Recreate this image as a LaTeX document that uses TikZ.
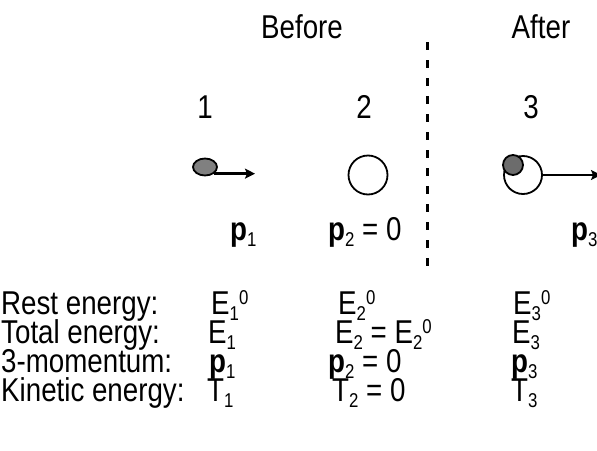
\documentclass[tikz,border=0pt]{standalone}
\usepackage{fontspec}
\setmainfont{Liberation Sans}[FakeStretch=0.84]
\usetikzlibrary{arrows.meta, shapes.geometric}
\newcommand{\subidx}[1]{\raisebox{-6pt}{\fontsize{20}{20}\selectfont #1}}
\newcommand{\supidx}[1]{\raisebox{10pt}{\fontsize{20}{20}\selectfont #1}}

\begin{document}
\begin{tikzpicture}[x=1pt, y=-1pt,
    every node/.style={inner sep=0pt, anchor=base west, font=\fontsize{33}{33}\selectfont},
    ball/.style={draw, line width=1.8pt, inner sep=0pt, anchor=center},
    arr/.style={line width=2.4pt, -{Stealth[length=10pt,width=10pt,inset=2pt]}}]

  \useasboundingbox (0,0) rectangle (597,450);

  % Headings
  \node[anchor=base] (Bef) at (302,38) {Before};
  \node[anchor=base] (Aft) at (541,38) {After};
  \node[anchor=base] (N1) at (205,118) {1};
  \node[anchor=base] (N2) at (364,118) {2};
  \node[anchor=base] (N3) at (531,118) {3};

  % Before / after divider
  \draw[line width=3pt, dash pattern=on 8pt off 10pt] (427,42) -- (427,272);

  % Particles
  \node[ball, ellipse, fill=gray, minimum width=24pt, minimum height=17pt] (P1) at (205,167) {};
  \node[ball, circle, minimum size=39pt] (P2) at (368,175) {};
  \node[ball, circle, minimum size=38pt] (P3) at (523,175) {};
  \node[ball, circle, fill=gray!85!black, minimum size=20pt] (P3a) at (513,165) {};

  \coordinate (H1) at (255,175);
  \coordinate (H3) at (601,175);
  \draw[arr] (P1.south east) -- (P1.south east -| H1);
  \draw[arr] (P3.east) -- (H3);

  % Momentum labels
  \node (L1) at (230,240) {\textbf{p}\subidx{1}};
  \node (L2) at (328,240) {\textbf{p}\subidx{2} = 0};
  \node (L3) at (571,240) {\textbf{p}\subidx{3}};

  % Table of quantities
  \node (R1) at (1,314) {Rest energy:};
  \node (R2) at (1,343) {Total energy:};
  \node (R3) at (1,372) {3-momentum:};
  \node (R4) at (1,401) {Kinetic energy:};

  \node (A1) at (211,314) {E\subidx{1}\supidx{0}};
  \node (A2) at (208,343) {E\subidx{1}};
  \node (A3) at (209,372) {\textbf{p}\subidx{1}};
  \node (A4) at (207,401) {T\subidx{1}};

  \node (B1) at (338,314) {E\subidx{2}\supidx{0}};
  \node (B2) at (335,343) {E\subidx{2} = E\subidx{2}\supidx{0}};
  \node (B3) at (328,372) {\textbf{p}\subidx{2} = 0};
  \node (B4) at (332,401) {T\subidx{2} = 0};

  \node (C1) at (513,314) {E\subidx{3}\supidx{0}};
  \node (C2) at (512,343) {E\subidx{3}};
  \node (C3) at (511,372) {\textbf{p}\subidx{3}};
  \node (C4) at (511,401) {T\subidx{3}};

\end{tikzpicture}
\end{document}
